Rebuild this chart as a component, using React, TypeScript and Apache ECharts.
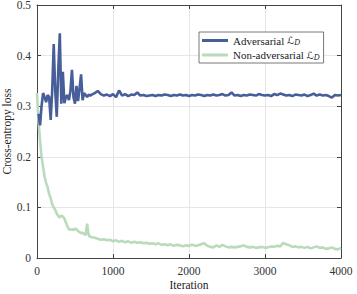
import React, { useEffect, useRef } from "react";
import * as echarts from "echarts";

const earlyStep = 20;
const earlyEnd = 700;
const lateStart = 720;
const lateStep = 40;
const lateEnd = 4000;

const advEarly = [null, 0.285, 0.262, 0.3, 0.326, 0.318, 0.308, 0.322, 0.318, 0.273,
  0.33, 0.423, 0.33, 0.279, 0.372, 0.444, 0.305, 0.368, 0.306, 0.318,
  0.322, 0.312, 0.33, 0.372, 0.318, 0.305, 0.34, 0.31, 0.335, 0.363,
  0.312, 0.326, 0.322, 0.318, 0.323, 0.321];
const advLate = [0.323, 0.326, 0.33, 0.324, 0.321, 0.323, 0.32, 0.324, 0.318, 0.331,
  0.321, 0.324, 0.32, 0.323, 0.322, 0.327, 0.321, 0.322, 0.32, 0.321,
  0.322, 0.32, 0.322, 0.321, 0.323, 0.322, 0.32, 0.322, 0.321, 0.323,
  0.321, 0.322, 0.32, 0.322, 0.321, 0.323, 0.322, 0.32, 0.322, 0.321,
  0.323, 0.321, 0.322, 0.324, 0.321, 0.322, 0.327, 0.321, 0.322, 0.32,
  0.322, 0.321, 0.323, 0.322, 0.321, 0.324, 0.322, 0.321, 0.322, 0.32,
  0.324, 0.322, 0.325, 0.323, 0.321, 0.322, 0.32, 0.323, 0.322, 0.321,
  0.323, 0.32, 0.322, 0.325, 0.321, 0.323, 0.321, 0.322, 0.32, 0.317,
  0.322, 0.321, 0.322];

const nonEarly = [0.326, 0.27, 0.232, 0.2, 0.18, 0.16, 0.148, 0.14, 0.126, 0.118,
  0.106, 0.1, 0.095, 0.088, 0.083, 0.08, 0.084, 0.082, 0.078, 0.07,
  0.063, 0.057, 0.056, 0.057, 0.055, 0.058, 0.057, 0.053, 0.051, 0.049,
  0.05, 0.047, 0.046, 0.068, 0.045, 0.042];
const nonLate = [0.041, 0.04, 0.038, 0.036, 0.037, 0.035, 0.036, 0.033, 0.035, 0.032,
  0.034, 0.031, 0.033, 0.03, 0.032, 0.03, 0.031, 0.029, 0.03, 0.028,
  0.029, 0.027, 0.029, 0.026, 0.027, 0.025, 0.027, 0.024, 0.026, 0.025,
  0.023, 0.025, 0.024, 0.026, 0.024, 0.025, 0.027, 0.029, 0.024, 0.022,
  0.021, 0.025, 0.022, 0.026, 0.023, 0.021, 0.022, 0.021, 0.022, 0.023,
  0.025, 0.022, 0.021, 0.022, 0.02, 0.021, 0.022, 0.02, 0.021, 0.023,
  0.022, 0.024, 0.023, 0.03, 0.027, 0.025, 0.022, 0.023, 0.021, 0.022,
  0.02, 0.022, 0.019, 0.021, 0.023, 0.02, 0.021, 0.018, 0.019, 0.021,
  0.018, 0.017, 0.02];

const xTicks = [0, 1000, 2000, 3000, 4000];
const yTicks = [0, 0.1, 0.2, 0.3, 0.4, 0.5];

const iterations: number[] = [];
for (let x = 0; x <= earlyEnd; x += earlyStep) iterations.push(x);
for (let x = lateStart; x <= lateEnd; x += lateStep) iterations.push(x);

const advValues = [...advEarly, ...advLate];
const nonValues = [...nonEarly, ...nonLate];

const FONT = "Liberation Serif, Times New Roman, Times, serif";
const AXIS = "#444";

export default function App() {
  const ref = useRef<HTMLDivElement>(null);
  useEffect(() => {
    if (!ref.current) return;
    const chart = echarts.init(ref.current, null, { renderer: "svg" });
    const axisCommon = {
      type: "value" as const,
      axisLine: { show: true, onZero: false, lineStyle: { color: AXIS, width: 1 } },
      axisTick: { show: true, inside: true, length: 4, lineStyle: { color: AXIS } },
    };
    chart.setOption({
      animation: false,
      backgroundColor: "#fff",
      textStyle: { fontFamily: FONT },
      grid: { left: 37, right: 16, top: 5, bottom: 36, containLabel: false, outerBoundsMode: "none" },
      legend: {
        left: 199,
        top: 32,
        orient: "vertical",
        icon: "rect",
        itemWidth: 26,
        itemHeight: 3,
        itemGap: 3,
        padding: [3, 4, 2, 3],
        borderColor: "#555",
        borderWidth: 0.8,
        backgroundColor: "#fff",
        data: ["Adversarial", "Non-adversarial"],
        formatter: (name: string) => `{t|${name} }{l|ℒ}{s|D}`,
        textStyle: {
          fontFamily: FONT,
          fontSize: 11,
          color: "#222",
          rich: {
            t: { fontFamily: FONT, fontSize: 11, color: "#222" },
            l: { fontFamily: "DejaVu Sans", fontSize: 10, color: "#222" },
            s: { fontFamily: FONT, fontStyle: "italic", fontSize: 8, color: "#222", verticalAlign: "bottom", padding: [4, 0, 0, 0] },
          },
        },
      },
      xAxis: [
        {
          ...axisCommon,
          min: xTicks[0],
          max: xTicks[xTicks.length - 1],
          interval: 1000,
          position: "bottom",
          name: "Iteration",
          nameLocation: "middle",
          nameGap: 21,
          nameMoveOverlap: false,
          nameTextStyle: { fontFamily: FONT, fontSize: 11.5, color: "#222", verticalAlign: "top" },
          axisLabel: { fontFamily: FONT, fontSize: 11.5, color: "#333", margin: 7, formatter: (v: number) => String(v) },
          splitLine: { show: true, lineStyle: { color: "#e6e6e6", width: 1 } },
        },
        {
          ...axisCommon,
          min: xTicks[0],
          max: xTicks[xTicks.length - 1],
          interval: 1000,
          position: "top",
          axisLabel: { show: false },
          splitLine: { show: false },
        },
      ],
      yAxis: [
        {
          ...axisCommon,
          min: yTicks[0],
          max: yTicks[yTicks.length - 1],
          interval: 0.1,
          position: "left",
          name: "Cross-entropy loss",
          nameLocation: "middle",
          nameGap: 24,
          nameMoveOverlap: false,
          nameTextStyle: { fontFamily: FONT, fontSize: 11.5, color: "#222" },
          axisLabel: {
            fontFamily: FONT,
            fontSize: 11.5,
            color: "#333",
            margin: 6,
            formatter: (v: number) => (v === 0 ? "0" : v.toFixed(1)),
          },
          splitLine: { show: true, lineStyle: { color: "#e6e6e6", width: 1 } },
        },
        {
          ...axisCommon,
          min: yTicks[0],
          max: yTicks[yTicks.length - 1],
          interval: 0.1,
          position: "right",
          axisLabel: { show: false },
          splitLine: { show: false },
        },
      ],
      series: [
        {
          name: "Adversarial",
          type: "line",
          data: iterations.map((x, i) => [x, advValues[i]]),
          showSymbol: false,
          symbol: "none",
          z: 3,
          lineStyle: { color: "#475e99", width: 2.6 },
          itemStyle: { color: "#475e99" },
        },
        {
          name: "Non-adversarial",
          type: "line",
          data: iterations.map((x, i) => [x, nonValues[i]]),
          showSymbol: false,
          symbol: "none",
          z: 2,
          lineStyle: { color: "#b9dbbb", width: 2.6 },
          itemStyle: { color: "#b9dbbb" },
        },
      ],
    });
    return () => chart.dispose();
  }, []);
  return <div ref={ref} style={{ width: 357, height: 294, position: "absolute", left: 0, top: 0 }} />;
}
